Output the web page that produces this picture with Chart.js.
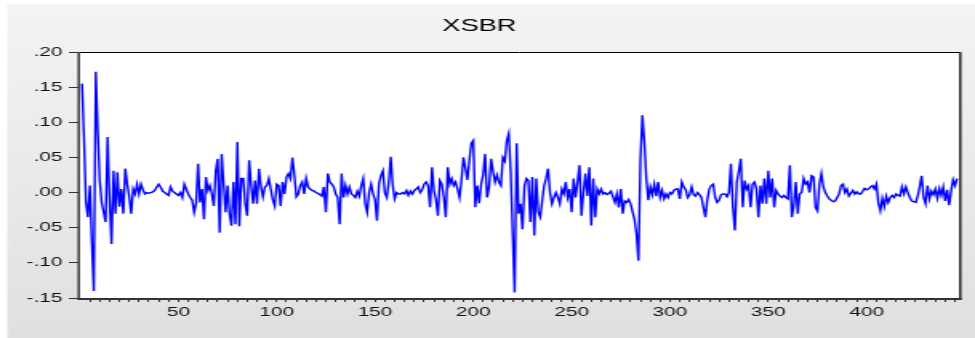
<!DOCTYPE html>
<html>
<head>
<meta charset="utf-8">
<title>XSBR</title>
<script src="https://cdn.jsdelivr.net/npm/chart.js@4.4.1/dist/chart.umd.min.js"></script>
<style>
    html, body { margin: 0; padding: 0; background: #fff; }
</style>
</head>
<body>
<canvas id="chart" width="609" height="338" style="display:block;width:975px;height:338px"></canvas>
<script>
const obs001 = [0.155, 0.077, -0.014, -0.035, 0.010, -0.071, -0.140, 0.172, 0.088, 0.017,
    -0.014, -0.028, -0.042, 0.079, -0.010, -0.073, 0.031, -0.030, 0.029, -0.020,
    0.005, -0.030, 0.034, 0.012, -0.005, -0.030, 0.005, -0.002, 0.012, -0.002,
    0.012, 0.004, -0.002, 0.000, -0.001, 0.000, 0.001, 0.003, 0.008, 0.012,
    0.008, 0.002];
const obs043 = [0.000, -0.002, -0.004, 0.008, 0.002, 0.000, -0.002, -0.004,
    0.000, -0.007, 0.012, 0.005, -0.002, -0.007, -0.011, -0.028, -0.015, 0.041,
    -0.014, 0.005, -0.038, 0.022, 0.003, 0.010, -0.002, -0.019, 0.031, 0.048,
    -0.057, 0.055, 0.012, -0.028, 0.010, -0.030, -0.047, 0.015, -0.045, 0.072,
    -0.048, 0.020, 0.020];
const obs084 = [-0.016, -0.033, 0.046, 0.010, -0.016, 0.017, -0.016,
    0.034, 0.008, -0.006, 0.008, 0.010, 0.020, 0.005, -0.010, -0.019, 0.012,
    0.010, -0.019, 0.015, -0.002, 0.022, 0.027, 0.020, 0.050, 0.025, -0.006,
    -0.002, 0.010, 0.015, -0.002, 0.020, 0.008, 0.005, 0.003, 0.002, 0.000,
    -0.001, -0.003, -0.005, 0.008, -0.028, 0.027, 0.015, 0.012, 0.008];
const obs130 = [-0.002, -0.007, -0.045, 0.027, -0.007, 0.010, -0.002, 0.008, -0.002, -0.004, -0.007,
    0.002, -0.005, 0.010, 0.020, -0.016, -0.028, 0.000, 0.012, -0.002, -0.010,
    -0.040, 0.012, 0.024, 0.031, 0.000, -0.007, 0.015, 0.051, 0.010, -0.009,
    0.000, -0.002, -0.002, 0.000, -0.002, 0.003, -0.004, 0.002, -0.002, 0.003,
    0.005, 0.008];
const obs173 = [0.000, 0.004, 0.012, 0.015, 0.010, -0.021, 0.036, 0.002,
    -0.010, -0.033, 0.017, 0.012, -0.007, -0.035, 0.036, 0.012, 0.020, 0.010,
    0.015, 0.005, -0.007, 0.018, 0.050, 0.035, 0.018, 0.046, 0.070, 0.074,
    -0.021, 0.010, -0.015, 0.012, 0.025, 0.055, -0.007, 0.008, 0.048, 0.030,
    0.015, 0.025, 0.015];
const obs214 = [0.010, 0.050, 0.045, 0.074, 0.084, 0.030, -0.057,
    -0.142, 0.070, -0.030, -0.016, -0.052, 0.010, 0.020, 0.017, -0.042, 0.022,
    -0.061, 0.020, -0.028, -0.035, -0.012, 0.010, 0.020, 0.034, 0.000, -0.016,
    -0.007, 0.000, -0.007, -0.016, 0.005, -0.002, 0.015, -0.007, 0.005, -0.028,
    0.020, -0.007, 0.015, 0.039, -0.033, 0.000, 0.027];
const obs258 = [-0.005, 0.036, -0.047,
    0.020, -0.035, 0.005, -0.002, 0.005, -0.002, 0.000, -0.003, -0.001, 0.002,
    -0.006, -0.014, -0.002, -0.021, 0.005, -0.030, -0.012, -0.014, -0.010, -0.016,
    -0.027, -0.038, -0.059, -0.097, 0.046, 0.110, 0.072, 0.020, -0.011, 0.008,
    -0.003, 0.012, -0.005, 0.015, -0.007, 0.003, -0.009, -0.002, -0.007, 0.000,
    -0.002, 0.003, 0.005];
const obs304 = [0.005, -0.009, 0.015, 0.008, 0.004, -0.007, -0.003,
    0.008, -0.003, -0.005, 0.000, -0.003, -0.007, -0.021, -0.035, -0.010, 0.005,
    0.010, 0.012, -0.007, -0.014, -0.011, -0.003, -0.002, -0.002, -0.006, 0.000,
    0.041, -0.020, -0.054, 0.015, 0.030, 0.048, -0.021, 0.017, 0.005, 0.010,
    -0.021, 0.012, 0.015];
const obs344 = [0.005, -0.035, 0.010, -0.016, 0.020, -0.016, 0.031,
    -0.007, 0.020, -0.021, 0.003, -0.002, -0.005, -0.007, -0.004, -0.007, -0.009,
    0.039, -0.035, -0.018, 0.015, -0.030, -0.002, 0.000, 0.020, 0.012, 0.015,
    0.000, 0.024, 0.022, -0.021, -0.026, 0.012, 0.027, 0.008, 0.000, -0.005,
    -0.009, -0.011, -0.013, -0.012, -0.007, -0.002, 0.010];
const obs388 = [0.012, 0.000, 0.005,
    -0.005, -0.001, 0.003, -0.002, 0.001, -0.002, -0.002, 0.002, 0.006, 0.004,
    0.005, 0.008, 0.010, 0.005, 0.012, -0.015, -0.026, -0.008, -0.020, -0.005,
    -0.014, -0.007, -0.004, -0.007, -0.002, -0.004, -0.005, 0.008, -0.002, 0.008,
    0.000, -0.007, -0.012, -0.013, -0.014, -0.005, 0.008, 0.024, -0.007, -0.016,
    0.010, -0.009, 0.002];
const obs434 = [-0.003, 0.005, -0.008, 0.006, -0.004, 0.008, -0.012, 0.004, -0.018, 0.002,
    0.018, 0.010, 0.020];

const xsbr = [].concat(obs001, obs043, obs084, obs130, obs173, obs214,
    obs258, obs304, obs344, obs388, obs434);

const yTicks = [-0.15, -0.10, -0.05, 0.00, 0.05, 0.10, 0.15, 0.20];
const xTickLabels = [50, 100, 150, 200, 250, 300, 350, 400];
const xMinorStep = 5;

// the picture is stretched sideways, so the canvas is drawn narrow and widened by css
const W = 609;

Chart.defaults.font.family = "'Liberation Sans', Arial, sans-serif";
Chart.defaults.color = '#111';

function fmtY(v) {
    var s = Math.abs(v).toFixed(2).replace(/^0/, '');
    return v < -1e-9 ? '-' + s : s;
}

const framePlugin = {
    id: 'frame',
    beforeDraw(chart) {
        const ctx = chart.ctx;
        const a = chart.chartArea;
        ctx.save();
        ctx.fillStyle = '#fff';
        ctx.fillRect(0, 0, chart.width, chart.height);
        const g = ctx.createLinearGradient(0, 0, 0, chart.height);
        g.addColorStop(0, '#f4f4f4');
        g.addColorStop(1, '#e0e0e0');
        ctx.fillStyle = g;
        ctx.fillRect(4.5, 4, chart.width - 4.5, chart.height - 4);
        ctx.fillStyle = '#fff';
        ctx.fillRect(a.left, a.top, a.right - a.left, a.bottom - a.top);
        ctx.restore();
    },
    afterDatasetsDraw(chart) {
        const ctx = chart.ctx;
        const a = chart.chartArea;
        ctx.save();
        ctx.strokeStyle = '#000';
        ctx.lineWidth = 1;
        ctx.beginPath();
        ctx.moveTo(a.left, a.top + 0.5);
        ctx.lineTo(a.right, a.top + 0.5);
        ctx.stroke();
        ctx.strokeStyle = '#444';
        ctx.lineWidth = 1.6;
        ctx.beginPath();
        ctx.moveTo(a.left - 0.8, a.top);
        ctx.lineTo(a.left - 0.8, a.bottom + 2);
        ctx.stroke();
        ctx.strokeStyle = '#333';
        ctx.beginPath();
        ctx.moveTo(a.right + 0.8, a.top);
        ctx.lineTo(a.right + 0.8, a.bottom + 2);
        ctx.stroke();
        ctx.lineWidth = 2;
        ctx.beginPath();
        ctx.moveTo(a.left - 1.6, a.bottom + 1);
        ctx.lineTo(a.right + 1.6, a.bottom + 1);
        ctx.stroke();
        ctx.restore();
    }
};

function drawChart() {
    const ctx = document.getElementById('chart');
    new Chart(ctx, {
        type: 'line',
        data: {
            datasets: [{
                label: 'XSBR',
                data: xsbr.map((v, i) => ({ x: i + 1, y: v })),
                borderColor: '#0000ff',
                borderWidth: 1.4,
                pointRadius: 0,
                tension: 0,
                fill: false
            }]
        },
        options: {
            responsive: false,
            animation: false,
            devicePixelRatio: 1,
            layout: { padding: { left: 0, right: W - 599, top: 0, bottom: 0 } },
            plugins: {
                legend: { display: false },
                tooltip: { enabled: false },
                title: {
                    display: true,
                    text: 'XSBR',
                    color: '#000',
                    font: { size: 17, weight: 'normal' },
                    padding: { top: 16, bottom: 15.6 }
                }
            },
            scales: {
                x: {
                    type: 'linear',
                    min: 0,
                    max: xsbr.length + 1,
                    afterBuildTicks: (axis) => {
                        var ticks = [];
                        for (var v = xMinorStep; v <= xsbr.length; v += xMinorStep) ticks.push({ value: v });
                        axis.ticks = ticks;
                    },
                    afterFit: (axis) => { axis.height = 40; },
                    border: { display: false },
                    grid: { drawOnChartArea: false, drawTicks: true, tickLength: 4, color: '#333', lineWidth: 1 },
                    ticks: {
                        autoSkip: false,
                        maxRotation: 0,
                        padding: 3,
                        font: { size: 13 },
                        callback: (v) => xTickLabels.includes(v) ? String(v) : ''
                    }
                },
                y: {
                    min: yTicks[0],
                    max: yTicks[yTicks.length - 1],
                    afterBuildTicks: (axis) => { axis.ticks = yTicks.map(v => ({ value: v })); },
                    afterFit: (axis) => { axis.width = 50; },
                    border: { display: false },
                    grid: { drawOnChartArea: false, drawTicks: true, tickLength: 7, color: '#333', lineWidth: 1 },
                    ticks: {
                        padding: 4,
                        font: { size: 13 },
                        callback: (v) => fmtY(v)
                    }
                }
            }
        },
        plugins: [framePlugin]
    });
}

drawChart();
</script>
</body>
</html>
